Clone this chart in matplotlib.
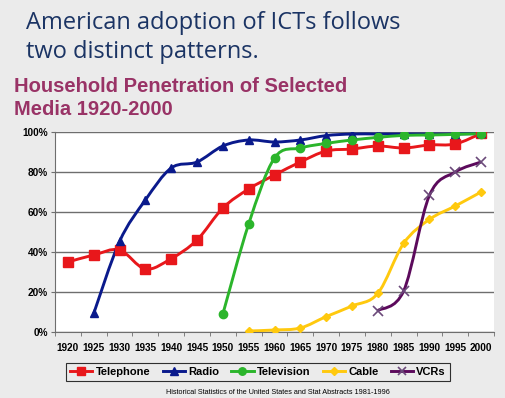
import numpy as np
import matplotlib
matplotlib.use("Agg")
from matplotlib import pyplot as plt
from matplotlib.path import Path
from matplotlib.patches import PathPatch
from matplotlib.lines import Line2D

years = [1920, 1925, 1930, 1935, 1940, 1945, 1950, 1955, 1960, 1965,
         1970, 1975, 1980, 1985, 1990, 1995, 2000]

# valores (%), None = sem dado
telephone = [35, 38.5, 41, 31.5, 36.7, 46, 62, 71.5, 78.5, 85,
             90.5, 91.5, 93, 92, 93.5, 94, 99.3]
radio = [None, 9.3, 45.3, 66, 82, 85, 93, 96, 95, 96,
         98.2, 99, 99, 99, 99, 99, 99.3]
television = [None, None, None, None, None, None, 9, 54, 87, 92,
              94.3, 96, 97.3, 98.3, 98.5, 98.8, 99.2]
cable = [None, None, None, None, None, None, None, 0.5, 1, 2,
         7.7, 13, 19.3, 44.3, 56.3, 63, 70]
vcrs = [None, None, None, None, None, None, None, None, None, None,
        None, None, 10.7, 20.5, 68.3, 80, 85]

series = [
    ("Telephone", telephone, "#e8171b", "s", 7, "#e8171b"),
    ("Radio", radio, "#0a1a8c", "^", 6, "#0a1a8c"),
    ("Television", television, "#2bb52b", "o", 6, "#2bb52b"),
    ("Cable", cable, "#ffc90e", "D", 4, "#ffc90e"),
    ("VCRs", vcrs, "#5c0a5c", "x", 7, "#6b4a7a"),
]

bg = "#ebebeb"


def curva_suave(xs, ys):
    # curva tipo "smoothed line" do Excel (bezier tipo catmull-rom)
    pts = np.array(list(zip(xs, ys)), dtype=float)
    verts = [pts[0]]
    codes = [Path.MOVETO]
    n = len(pts)
    for i in range(n - 1):
        p0 = pts[i - 1] if i > 0 else pts[i]
        p1 = pts[i]
        p2 = pts[i + 1]
        p3 = pts[i + 2] if i + 2 < n else pts[i + 1]
        c1 = p1 + (p2 - p0) / 6.0
        c2 = p2 - (p3 - p1) / 6.0
        verts += [c1, c2, p2]
        codes += [Path.CURVE4] * 3
    return Path(verts, codes)


fig = plt.figure(figsize=(5.05, 3.98), dpi=100, facecolor=bg)
ax = fig.add_axes([55/505, 1-332/398, 439/505, 200/398])
ax.set_facecolor("white")

x = np.arange(len(years))
for nome, vals, cor, mk, ms, mcor in series:
    xs = [x[i] for i in range(len(vals)) if vals[i] is not None]
    ys = [vals[i] for i in range(len(vals)) if vals[i] is not None]
    patch = PathPatch(curva_suave(xs, ys), facecolor="none", edgecolor=cor, lw=2.1, zorder=3)
    ax.add_patch(patch)
    if mk == "x":
        ax.plot(xs, ys, ls="none", marker=mk, ms=ms, mew=1.2, color=mcor, zorder=4)
    else:
        ax.plot(xs, ys, ls="none", marker=mk, ms=ms, color=mcor, mec=mcor, zorder=4)

ax.set_xlim(-0.5, len(years) - 0.5)
ax.set_ylim(0, 100)
ax.set_yticks([0, 20, 40, 60, 80, 100])
ax.set_yticklabels([str(v) + "%" for v in [0, 20, 40, 60, 80, 100]],
                   fontsize=7.2, fontweight="bold", family="Liberation Sans")
ax.yaxis.grid(True, color="#6e6e6e", lw=1)
ax.set_axisbelow(True)
ax.tick_params(axis="y", length=3, color="#6e6e6e", direction="out", pad=2)

ax.set_xticks(x)
ax.set_xticklabels([str(a) for a in years], fontsize=7.2, fontweight="bold", family="Liberation Sans")
ax.set_xticks(np.arange(-0.5, len(years)), minor=True)
ax.tick_params(axis="x", which="major", length=0, pad=8)
ax.tick_params(axis="x", which="minor", length=3, color="#6e6e6e", direction="out")

for lado in ["top", "right"]:
    ax.spines[lado].set_visible(False)
ax.spines["left"].set_color("#6e6e6e")
ax.spines["bottom"].set_color("#6e6e6e")

# titulos
fig.text(26/505, 1-29/398, "American adoption of ICTs follows",
         fontsize=17, color="#1b3464", family="Open Sans", va="baseline")
fig.text(26/505, 1-58/398, "two distinct patterns.",
         fontsize=17, color="#1b3464", family="Open Sans", va="baseline")
fig.text(14/505, 1-92/398, "Household Penetration of Selected",
         fontsize=14.5, color="#993366", fontweight="bold", family="Liberation Sans", va="baseline")
fig.text(14/505, 1-115/398, "Media 1920-2000",
         fontsize=14.5, color="#993366", fontweight="bold", family="Liberation Sans", va="baseline")

# legenda
handles = []
for nome, vals, cor, mk, ms, mcor in series:
    handles.append(Line2D([], [], color=cor, lw=2.1, marker=mk, ms=ms * 0.9,
                          mec=mcor, mfc=mcor, mew=1.2 if mk == "x" else 1))
leg = fig.legend(handles, [s[0] for s in series], loc="center", ncol=5,
                 bbox_to_anchor=(258/505, 1-372/398), frameon=True, fancybox=False,
                 edgecolor="black", facecolor=bg, handlelength=2, handletextpad=0.3,
                 columnspacing=1.1, borderpad=0.35,
                 prop={"family": "Liberation Sans", "weight": "bold", "size": 8})
leg.get_frame().set_linewidth(0.8)

fig.text(278/505, 1-392/398, "Historical Statistics of the United States and Stat Abstracts 1981-1996",
         fontsize=5.2, ha="center", va="center", family="Liberation Sans")

fig.savefig("out.png", dpi=100, facecolor=bg)
